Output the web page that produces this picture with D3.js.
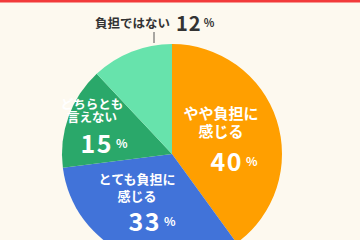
<!DOCTYPE html>
<html>
<head>
<meta charset="utf-8">
<script src="https://cdn.jsdelivr.net/npm/d3@7"></script>
<style>
  html, body { margin: 0; padding: 0; background: #fdf9ef; }
  svg { display: block; }
  text { font-family: "Noto Sans CJK JP", "Noto Sans", sans-serif; }
</style>
</head>
<body>
<svg id="chart" width="360" height="240"></svg>
<script>
// slices, clockwise from 12 o'clock
var categories = ["やや負担に感じる", "とても負担に感じる", "どちらとも言えない", "負担ではない"];
var labelLines = [["やや負担に", "感じる"], ["とても負担に", "感じる"], ["どちらとも", "言えない"], ["負担ではない"]];
var values = [40, 33, 15, 12];
var colors = ["#ff9f00", "#4173d9", "#2aa86a", "#67e3ac"];

// label placement relative to pie centre (layout only)
var labelLayout = [
  { dx: 49, ys: [-42, -24], fs: 15, nx: 62, ny: 6 },
  { dx: -35, ys: [24, 41], fs: 13, nx: -20, ny: 66 },
  { dx: -80, ys: [-51, -38], fs: 12.5, nx: -68, ny: -12 }
];

var svg = d3.select("#chart");
var cx = 172, cy = 154, R = 110;

svg.append("rect").attr("x", 0).attr("y", 0).attr("width", 360).attr("height", 2.5).attr("fill", "#f23a3a");

var pie = d3.pie().sort(null).value(function(d) { return d; });
var arc = d3.arc().innerRadius(0).outerRadius(R);

var g = svg.append("g").attr("transform", "translate(" + cx + "," + cy + ")");

g.selectAll("path")
  .data(pie(values))
  .enter()
  .append("path")
  .attr("d", arc)
  .attr("fill", function(d, i) { return colors[i]; });

// inside labels: one text per slice, lines + number as tspans
labelLayout.forEach(function(l, i) {
  var t = g.append("text")
    .attr("text-anchor", "middle")
    .attr("dominant-baseline", "central")
    .attr("font-weight", 700)
    .attr("fill", "#fff");
  labelLines[i].forEach(function(s, k) {
    t.append("tspan")
      .attr("x", l.dx).attr("y", l.ys[k])
      .attr("font-size", l.fs)
      .text(s);
  });
  var n = g.append("text")
    .attr("x", l.nx).attr("y", l.ny)
    .attr("text-anchor", "middle")
    .attr("dominant-baseline", "central")
    .attr("font-weight", 700)
    .attr("fill", "#fff");
  n.append("tspan").attr("font-size", 25).attr("letter-spacing", 1.5).text(values[i]);
  n.append("tspan").attr("font-size", 12).attr("dx", 3).text("%");
});

// outside label for the small slice
var outLabel = svg.append("text")
  .attr("x", 95).attr("y", 22)
  .attr("dominant-baseline", "central")
  .attr("fill", "#333")
  .attr("font-weight", 700);
outLabel.append("tspan").attr("font-size", 12.5).text(labelLines[3][0]);
outLabel.append("tspan").attr("font-size", 20).attr("dx", 6).attr("letter-spacing", 1).text(values[3]);
outLabel.append("tspan").attr("font-size", 11).attr("dx", 2).text("%");

svg.append("line")
  .attr("x1", 154).attr("x2", 154).attr("y1", 32).attr("y2", 43)
  .attr("stroke", "#555").attr("stroke-width", 1);
</script>
</body>
</html>
